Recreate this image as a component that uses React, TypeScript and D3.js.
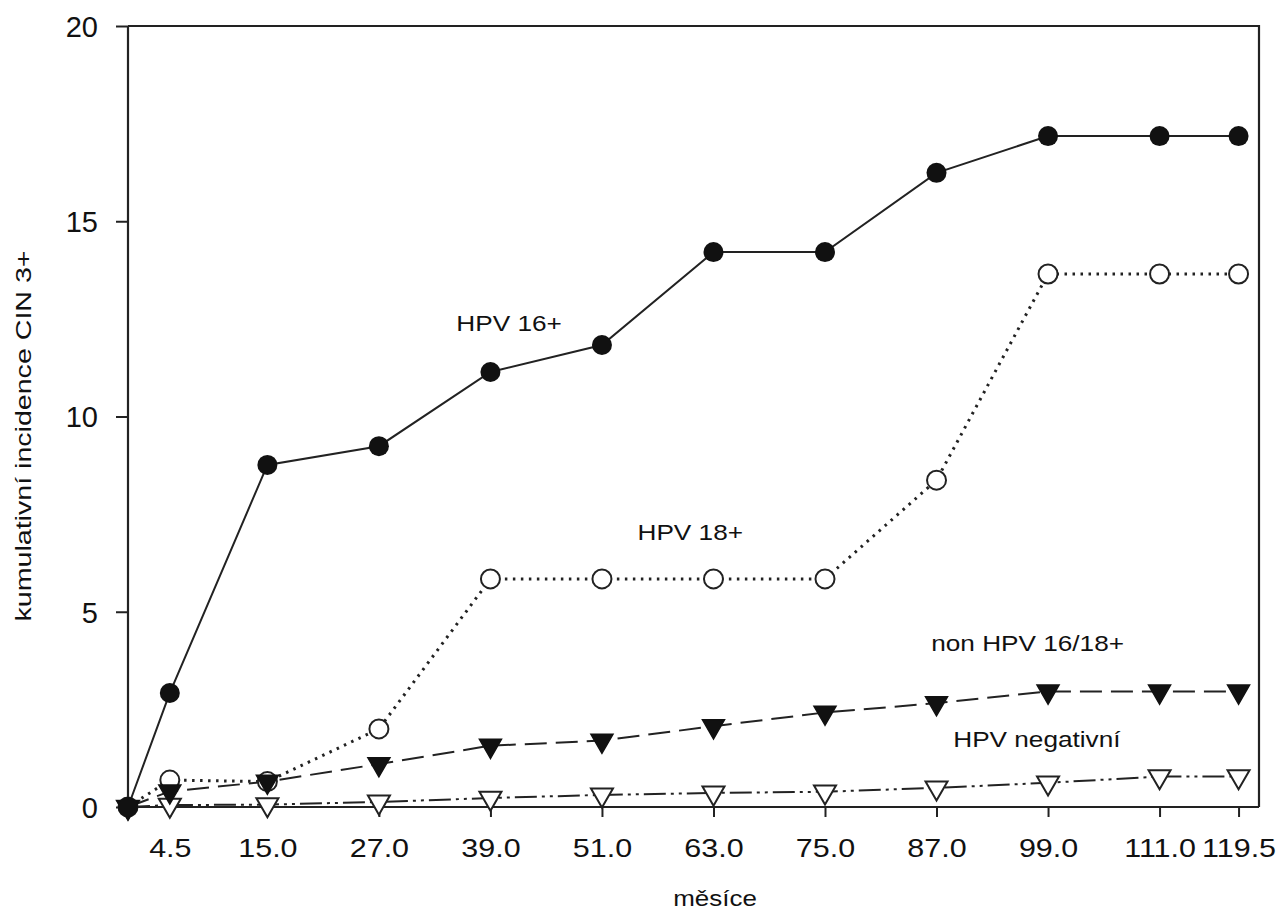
import { useEffect, useRef } from 'react';
import * as d3 from 'd3';

// x positions (months) and tick labels
const months = [0, 4.5, 15, 27, 39, 51, 63, 75, 87, 99, 111, 119.5];
const tickMonths = [4.5, 15, 27, 39, 51, 63, 75, 87, 99, 111, 119.5];
const tickLabels = ['4.5', '15.0', '27.0', '39.0', '51.0', '63.0', '75.0', '87.0', '99.0', '111.0', '119.5'];
const yTicks = [0, 5, 10, 15, 20];

// cumulative incidence CIN 3+ (%)
const hpv16 = [0, 2.92, 8.76, 9.24, 11.14, 11.83, 14.21, 14.21, 16.24, 17.18, 17.18, 17.18];
const hpv18 = [0, 0.69, 0.65, 2.0, 5.84, 5.84, 5.84, 5.84, 8.37, 13.65, 13.65, 13.65];
const nonHpv = [0, 0.4, 0.65, 1.1, 1.57, 1.7, 2.07, 2.42, 2.66, 2.96, 2.96, 2.96];
const hpvNeg = [0, 0.05, 0.06, 0.13, 0.23, 0.31, 0.36, 0.39, 0.49, 0.62, 0.78, 0.78];

const seriesLabels = ['HPV 16+', 'HPV 18+', 'non HPV 16/18+', 'HPV negativní'];
// label anchor in data units (month, value)
const labelAt = [[41, 12.4], [60.5, 7.05], [96.8, 4.2], [97.8, 1.75]];

export default function App() {
    const svgRef = useRef<SVGSVGElement>(null);

    useEffect(() => {
        if (!svgRef.current) return;
        const svg = d3.select(svgRef.current);
        svg.selectAll('*').remove();

        const font = 'Liberation Sans, Arial, sans-serif';

        const x = d3.scaleLinear().domain([0, 121.7]).range([128, 1259]);
        const y = d3.scaleLinear().domain([0, 20]).range([807, 26]);

        const g = svg.append('g');

        // frame (top + right)
        g.append('path')
            .attr('d', `M${x(0)},${y(20)}H${x(121.7)}V${y(0)}`)
            .attr('fill', 'none')
            .attr('stroke', '#222')
            .attr('stroke-width', 2.2);

        // axes
        const xAxis = g.append('g')
            .attr('transform', `translate(0,${y(0)})`)
            .call(d3.axisBottom(x).tickValues(tickMonths).tickSize(10).tickFormat((_, i) => tickLabels[i]));
        const yAxis = g.append('g')
            .attr('transform', `translate(${x(0)},0)`)
            .call(d3.axisLeft(y).tickValues(yTicks).tickSize(12).tickFormat(d3.format('d')));

        [xAxis, yAxis].forEach(a => {
            a.select('.domain').attr('stroke', '#222').attr('stroke-width', 2.2);
            a.selectAll('.tick line').attr('stroke', '#222').attr('stroke-width', 2);
            a.selectAll('.tick text')
                .attr('fill', '#111')
                .attr('font-family', font);
        });
        xAxis.select('.domain').attr('d', `M${x(0)},0H${x(121.7)}`);
        yAxis.select('.domain').attr('d', `M0,${y(0)}V${y(20)}`);
        xAxis.selectAll('.tick text')
            .attr('font-size', 26.5)
            .attr('y', 0)
            .attr('dy', null)
            .attr('transform', 'translate(0,50) scale(1.15,1)');
        yAxis.selectAll('.tick text')
            .attr('font-size', 29)
            .attr('x', -30)
            .attr('dy', '0.36em');

        // lines
        const line = (vals: number[]) => d3.line<number>()
            .x((_, i) => x(months[i]))
            .y(d => y(d))(vals);

        const styles = [
            { data: hpv16, dash: null, width: 2 },
            { data: hpv18, dash: '2.5 5.5', width: 3 },
            { data: nonHpv, dash: '22 9', width: 2 },
            { data: hpvNeg, dash: '22 5 3 5 3 5', width: 2 },
        ];

        styles.forEach(s => {
            g.append('path')
                .attr('d', line(s.data))
                .attr('fill', 'none')
                .attr('stroke', '#222')
                .attr('stroke-width', s.width)
                .attr('stroke-dasharray', s.dash);
        });

        const tri = d3.symbol().type(d3.symbolTriangle).size(210);

        // HPV negative: open down triangles
        g.selectAll('.neg')
            .data(hpvNeg)
            .enter()
            .append('path')
            .attr('d', tri)
            .attr('transform', (d, i) => `translate(${x(months[i])},${y(d)}) rotate(180)`)
            .attr('fill', '#fff')
            .attr('stroke', '#222')
            .attr('stroke-width', 2);

        // HPV 18: open circles
        g.selectAll('.c18')
            .data(hpv18)
            .enter()
            .append('circle')
            .attr('cx', (_, i) => x(months[i]))
            .attr('cy', d => y(d))
            .attr('r', 9.5)
            .attr('fill', '#fff')
            .attr('stroke', '#222')
            .attr('stroke-width', 2);

        // non HPV 16/18: filled down triangles
        g.selectAll('.non')
            .data(nonHpv)
            .enter()
            .append('path')
            .attr('d', tri)
            .attr('transform', (d, i) => `translate(${x(months[i])},${y(d)}) rotate(180)`)
            .attr('fill', '#111')
            .attr('stroke', '#111')
            .attr('stroke-width', 1.5);

        // HPV 16: filled circles
        g.selectAll('.c16')
            .data(hpv16)
            .enter()
            .append('circle')
            .attr('cx', (_, i) => x(months[i]))
            .attr('cy', d => y(d))
            .attr('r', 10)
            .attr('fill', '#111');

        // series labels
        seriesLabels.forEach((t, i) => {
            g.append('text')
                .attr('transform', `translate(${x(labelAt[i][0])},${y(labelAt[i][1])}) scale(1.19,1)`)
                .attr('text-anchor', 'middle')
                .attr('dy', '0.36em')
                .attr('font-family', font)
                .attr('font-size', 22)
                .attr('fill', '#111')
                .text(t);
        });

        // axis titles
        g.append('text')
            .attr('transform', 'translate(715,906) scale(1.18,1)')
            .attr('text-anchor', 'middle')
            .attr('font-family', font)
            .attr('font-size', 22)
            .attr('fill', '#111')
            .text('měsíce');
        g.append('text')
            .attr('transform', 'translate(31,436) rotate(-90) scale(1.3,1)')
            .attr('text-anchor', 'middle')
            .attr('font-family', font)
            .attr('font-size', 22)
            .attr('fill', '#111')
            .text('kumulativní incidence CIN 3+');
    }, []);

    return (
        <div style={{ position: 'absolute', left: 0, top: 0, background: '#fff' }}>
            <svg ref={svgRef} width={1287} height={914} style={{ display: 'block' }} />
        </div>
    );
}
